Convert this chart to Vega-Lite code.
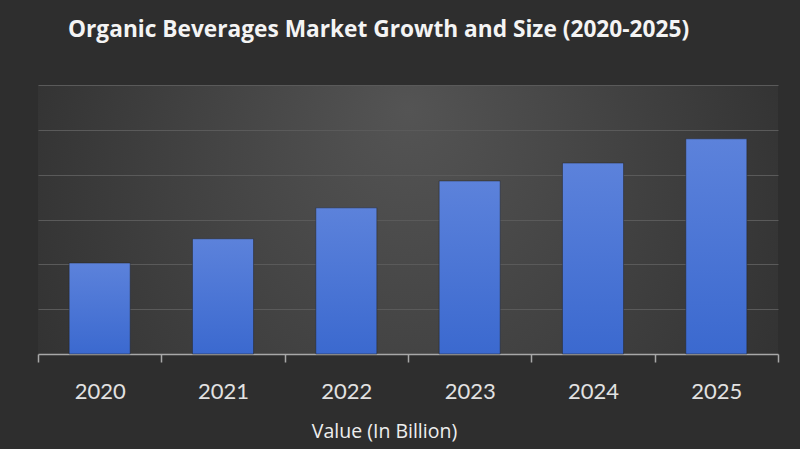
{
  "$schema": "https://vega.github.io/schema/vega-lite/v6.json",
  "width": 740,
  "height": 269,
  "autosize": {"type": "none"},
  "padding": {"left": 38, "top": 85, "right": 22, "bottom": 95},
  "background": "#2e2e2e",
  "title": {
    "text": "Organic Beverages Market Growth and Size (2020-2025)",
    "anchor": "start",
    "frame": "group",
    "dx": 30,
    "offset": 43,
    "font": "Open Sans",
    "fontSize": 22.7,
    "fontWeight": "bold",
    "color": "#f4f4f4"
  },
  "data": {
    "values": [
      {"year": "2020", "value": 2.03},
      {"year": "2021", "value": 2.57},
      {"year": "2022", "value": 3.26},
      {"year": "2023", "value": 3.86},
      {"year": "2024", "value": 4.26},
      {"year": "2025", "value": 4.80}
    ]
  },
  "mark": {
    "type": "bar",
    "width": {"band": 0.495},
    "color": {
      "gradient": "linear",
      "x1": 0, "y1": 0, "x2": 0, "y2": 1,
      "stops": [
        {"offset": 0, "color": "#5c82db"},
        {"offset": 1, "color": "#3b69cf"}
      ]
    },
    "stroke": "#262626",
    "strokeWidth": 1,
    "strokeOpacity": 0.5
  },
  "encoding": {
    "x": {
      "field": "year",
      "type": "ordinal",
      "scale": {"paddingInner": 0, "paddingOuter": 0},
      "axis": {
        "title": "Value (In Billion)",
        "titleFont": "Open Sans",
        "titleFontSize": 19.5,
        "titleFontWeight": "normal",
        "titleColor": "#eeeeee",
        "titleX": 346,
        "titlePadding": 20,
        "labelAngle": 0,
        "labelFont": "Lato",
        "labelFontSize": 22,
        "labelColor": "#e2e2e2",
        "labelPadding": 19,
        "domainColor": "#a8a8a8",
        "domainWidth": 1.5,
        "tickColor": "#a8a8a8",
        "tickSize": 8,
        "tickWidth": 1.5,
        "tickBand": "extent",
        "grid": false
      }
    },
    "y": {
      "field": "value",
      "type": "quantitative",
      "scale": {"domain": [0, 6], "nice": false},
      "axis": {
        "title": null,
        "labels": false,
        "ticks": false,
        "domain": false,
        "values": [1, 2, 3, 4, 5, 6],
        "grid": true,
        "gridColor": "#5a5a5a",
        "gridWidth": 1
      }
    }
  },
  "config": {
    "view": {
      "stroke": null,
      "fill": {
        "gradient": "radial",
        "x1": 0.5, "y1": 0.35, "r1": 0,
        "x2": 0.5, "y2": 0.5, "r2": 0.62,
        "stops": [
          {"offset": 0, "color": "#545454"},
          {"offset": 1, "color": "#2e2e2e"}
        ]
      }
    }
  }
}
